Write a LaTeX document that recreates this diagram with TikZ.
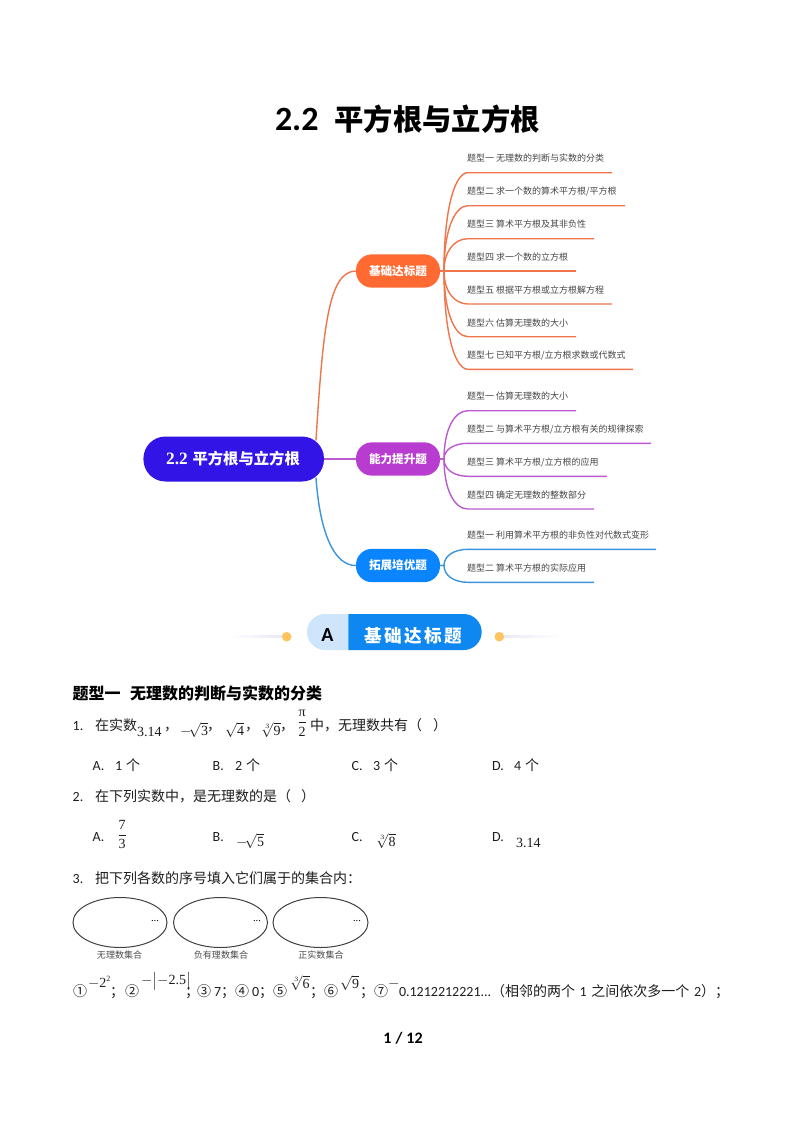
\documentclass[tikz,border=0pt]{standalone}
\usepackage{amsmath}
\usepackage{fontspec}
\setmainfont{Liberation Serif}
\newfontfamily\cjk{Noto Sans CJK SC}
\newfontfamily\cjksp[LetterSpace=14]{Noto Sans CJK SC}
\newfontfamily\lat{Carlito}
\usetikzlibrary{calc,backgrounds}
\definecolor{rootc}{HTML}{3214E6}
\definecolor{orc}{HTML}{FF6A33}
\definecolor{orl}{HTML}{F0754A}
\definecolor{puc}{HTML}{B83CD0}
\definecolor{pul}{HTML}{BC5AD2}
\definecolor{blc}{HTML}{0A84FF}
\definecolor{bll}{HTML}{3A94DE}
\definecolor{bana}{HTML}{CFE5FB}
\definecolor{banb}{HTML}{0F87F0}
\definecolor{dotc}{HTML}{FFC45E}
\definecolor{linec}{HTML}{E6E8F4}
\definecolor{txt}{HTML}{1E1E1E}
\newcommand{\fs}[1]{\fontsize{#1}{#1}\selectfont}
\tikzset{
  x=0.75pt,y=-0.75pt,
  every node/.style={inner sep=0pt,outer sep=0pt},
  rootpill/.style={fill=rootc,rounded corners=16.5pt,minimum width=135.4pt,minimum height=33.75pt,text=white},
  subpill/.style={rounded corners=12pt,minimum width=63pt,minimum height=25pt,text=white,font=\cjk\bfseries\fs{8.7pt}},
  leaf/.style={anchor=west,text height=5.6pt,text depth=1.2pt,text=black!72,font=\cjk\fs{6.75pt}},
  branch/.style={line width=1.05pt},
  body/.style={anchor=west,text height=8.5pt,text depth=1.5pt,text=txt,font=\cjk\fs{10.5pt}},
  head/.style={anchor=west,text height=9.7pt,text depth=1.7pt,text=black,font=\cjk\bfseries\fs{12pt}},
  opt/.style={anchor=west,text height=8.5pt,text depth=1.5pt,text=txt,font=\lat\fs{10.5pt}},
  mth/.style={anchor=west,text=txt,font=\rmfamily\fs{10.5pt}},
  setlab/.style={text=black!70,font=\cjk\fs{6.8pt}},
  dotsm/.style={text=black,font=\rmfamily\fs{8pt}},
}
\begin{document}
\begin{tikzpicture}
\useasboundingbox (0,0) rectangle (800,1132);
\begin{scope}[on background layer]
\fill[white] (0,0) rectangle (800,1132);
\end{scope}
% title
\node[anchor=west,text=black,text height=20pt,text depth=4pt] (title) at (275,120) {\lat\bfseries\fs{25.5pt}2.2\hspace{12pt}\cjk\bfseries\fs{22pt}平方根与立方根};
% mind map
\node[rootpill] (root) at (233.7,459) {\hspace{-1pt}\rmfamily\bfseries\fs{13pt}2.2\hspace{3.5pt}\cjk\bfseries\fs{11.5pt}平方根与立方根};
\node[subpill,fill=orc] (s1) at (398,271) {基础达标题};
\node[subpill,fill=puc] (s2) at (398,459) {能力提升题};
\node[subpill,fill=blc] (s3) at (398,565.5) {拓展培优题};
\begin{scope}[on background layer]
\draw[branch,orl] ($(root.north east)+(-8,4)$) .. controls (323,330) and (328,271) .. (s1.west);
\draw[branch,pul] (root.east) -- (s2.west);
\draw[branch,bll] ($(root.south east)+(-8,-4)$) .. controls (320,535) and (335,566) .. (s3.west);
\end{scope}
\foreach \n/\ty/\ly/\xe/\lab in {
 a/159/172.7/612/{题型一 无理数的判断与实数的分类},
 b/192/205.7/625/{题型二 求一个数的算术平方根/平方根},
 c/225/238.7/594/{题型三 算术平方根及其非负性},
 d/258/271/576/{题型四 求一个数的立方根},
 e/290.7/304/612/{题型五 根据平方根或立方根解方程},
 f/323.5/336.7/576/{题型六 估算无理数的大小},
 g/356/369.3/633/{题型七 已知平方根/立方根求数或代数式}}{
  \node[leaf] (l\n) at (467,\ty) {\lab};
  \coordinate (e\n) at (\xe,\ly);
  \pgfmathsetmacro{\cy}{271+0.6*(\ly-271)}
  \draw[branch,orl] (s1.east) -- ++(4,0) .. controls (444,\cy) and (454,\ly) .. (468,\ly) -- (e\n);
}
\foreach \n/\ty/\ly/\xe/\lab in {
 h/397/410.7/576/{题型一 估算无理数的大小},
 i/430/443.3/651/{题型二 与算术平方根/立方根有关的规律探索},
 j/463/476.3/607/{题型三 算术平方根/立方根的应用},
 k/496/509/594/{题型四 确定无理数的整数部分}}{
  \node[leaf] (l\n) at (467,\ty) {\lab};
  \coordinate (e\n) at (\xe,\ly);
  \pgfmathsetmacro{\cy}{459+0.6*(\ly-459)}
  \draw[branch,pul] (s2.east) -- ++(4,0) .. controls (444,\cy) and (454,\ly) .. (468,\ly) -- (e\n);
}
\foreach \n/\ty/\ly/\xe/\lab in {
 m/536/549.3/656/{题型一 利用算术平方根的非负性对代数式变形},
 n/568.7/582.3/594/{题型二 算术平方根的实际应用}}{
  \node[leaf] (l\n) at (467,\ty) {\lab};
  \coordinate (e\n) at (\xe,\ly);
  \pgfmathsetmacro{\cy}{565.5+0.6*(\ly-565.5)}
  \draw[branch,bll] (s3.east) -- ++(4,0) .. controls (444,\cy) and (454,\ly) .. (468,\ly) -- (e\n);
}
% banner
\shade[left color=white,right color=linec] (228,635.7) rectangle (286,637.7);
\shade[left color=linec,right color=white] (499,635.7) rectangle (560,637.7);
\fill[dotc] (286.7,636.7) circle[radius=3.6pt];
\fill[dotc] (499.3,636.7) circle[radius=3.6pt];
\fill[bana] (348.3,614) -- (325,614) arc[start angle=-90,end angle=-270,radius=18] -- (348.3,650) -- cycle;
\fill[banb] (348.3,614) -- (463.7,614) arc[start angle=-90,end angle=90,radius=18] -- (348.3,650) -- cycle;
\node[text=black] (bana) at (327.5,635) {\lat\bfseries\fs{15pt}A};
\node[text=white] (banb) at (413,635.7) {\cjksp\bfseries\fs{13.2pt}基础达标题};
% heading
\node[head] (h1) at (72.7,694) {题型一\hspace{7pt}无理数的判断与实数的分类};
% Q1
\node[opt] (q1n) at (72.7,726) {1.};
\node[body] (q1a) at (95,726) {在实数};
\node[mth] (q1b) at (137,732) {3.14};
\node[body] (q1c) at (164,726) {，};
\node[mth] (q1d) at (180,729.5) {$-\!\sqrt{\mbox{3}}$};
\node[body] (q1e) at (207,726) {，};
\node[mth] (q1f) at (225,729.5) {$\sqrt{\mbox{4}}$};
\node[body] (q1g) at (245,726) {，};
\node[mth] (q1h) at (261,729.5) {$\sqrt[3]{\mbox{9}}$};
\node[body] (q1i) at (280,726) {，};
\node[mth] (q1j) at (297,723) {$\dfrac{\mbox{π}}{\mbox{2}}$};
\node[body] (q1k) at (310,726) {中，无理数共有（};
\node[body] (q1l) at (433,726) {）};
% options
\foreach \n/\x/\lab/\xx/\v in {a/92.7/A./115/1,b/212.7/B./235/2,c/351.7/C./373/3,d/492/D./514/4}{
  \node[opt] (o\n) at (\x,766) {\lab};
  \node[opt] (v\n) at (\xx,766) {\v\hspace{3pt}\cjk 个};
}
% Q2
\node[opt] (q2n) at (72.7,796.7) {2.};
\node[body] (q2a) at (95,796.7) {在下列实数中，是无理数的是（};
\node[body] (q2b) at (301,796.7) {）};
\node[opt] (pa) at (92.7,837) {A.};
\node[mth] (pav) at (117,834.5) {$\dfrac{\mbox{7}}{\mbox{3}}$};
\node[opt] (pb) at (212.7,837) {B.};
\node[mth] (pbv) at (236,841) {$-\!\sqrt{\mbox{5}}$};
\node[opt] (pc) at (351.7,837) {C.};
\node[mth] (pcv) at (376,841) {$\sqrt[3]{\mbox{8}}$};
\node[opt] (pd) at (492,837) {D.};
\node[mth] (pdv) at (516,843) {3.14};
% Q3
\node[opt] (q3n) at (72.7,879) {3.};
\node[body] (q3a) at (95,879) {把下列各数的序号填入它们属于的集合内：};
\draw[black!75,line width=0.75pt] (120,922.5) ellipse[x radius=47,y radius=25];
\draw[black!75,line width=0.75pt] (220.5,922.5) ellipse[x radius=47,y radius=25];
\draw[black!75,line width=0.75pt] (320.5,922.5) ellipse[x radius=47.5,y radius=25];
\node[dotsm] (d1) at (155,921) {...};
\node[dotsm] (d2) at (257,921) {...};
\node[dotsm] (d3) at (357,921) {...};
\node[setlab] (t1) at (119.6,955) {无理数集合};
\node[setlab] (t2) at (221,955) {负有理数集合};
\node[setlab] (t3) at (321,955) {正实数集合};
% Q3 items
\node[body] (r1) at (73,992) {①};
\node[mth] (r1v) at (88,982) {$-\mbox{2}^{\mbox{\fs{6pt}2}}$};
\node[body] (r1s) at (110,992) {；};
\node[body] (r2) at (125,992) {②};
\node[mth] (r2v) at (141,981) {$-\bigl|-\mbox{2.5}\bigr|$};
\node[body] (r2s) at (185,992) {；};
\node[body] (r3) at (197,992) {③};
\node[opt] (r3v) at (214,992) {7\cjk；};
\node[body] (r4) at (235,992) {④};
\node[opt] (r4v) at (252,992) {0\cjk；};
\node[body] (r5) at (273,992) {⑤};
\node[mth] (r5v) at (290,983) {$\sqrt[3]{\mbox{6}}$};
\node[body] (r5s) at (310,992) {；};
\node[body] (r6) at (324,992) {⑥};
\node[mth] (r6v) at (340,983) {$\sqrt{\mbox{9}}$};
\node[body] (r6s) at (360,992) {；};
\node[body] (r7) at (374,992) {⑦};
\node[mth] (r7m) at (388,984) {$-$};
\node[opt] (r7v) at (399,992) {0.1212212221...};
\node[body] (r7t) at (491,992) {（相邻的两个\hspace{3.5pt}{\lat 1}\hspace{3.5pt}之间依次多一个\hspace{3.5pt}{\lat 2}）；};
% page number
\node[text=black] (pg) at (403,1038) {\lat\bfseries\fs{12pt}1\hspace{3pt}/\hspace{3pt}12};
\end{tikzpicture}
\end{document}
